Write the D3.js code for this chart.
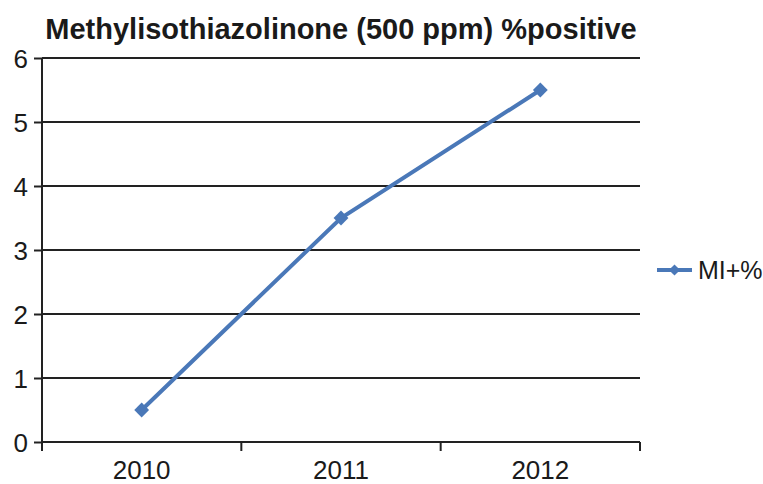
<!DOCTYPE html>
<html>
<head>
<meta charset="utf-8">
<script src="https://cdn.jsdelivr.net/npm/d3@7"></script>
<style>
  body { margin: 0; background: #fff; }
  text { font-family: "Liberation Sans", Arial, sans-serif; fill: #1a1a1a; }
</style>
</head>
<body>
<svg id="chart" width="763" height="484"></svg>
<script>
// chart data
var years = ["2010", "2011", "2012"];
var miPositive = [0.5, 3.5, 5.5];
var yTicks = [0, 1, 2, 3, 4, 5, 6];
var seriesName = "MI+%";
var chartTitle = "Methylisothiazolinone (500 ppm) %positive";

var LINE_COLOR = "#4a78b8";
var svg = d3.select("#chart");

var plotLeft = 42, plotRight = 640, plotTop = 58, plotBottom = 442;

var x = d3.scaleBand().domain(years).range([plotLeft, plotRight]);
var y = d3.scaleLinear().domain([0, 6]).range([plotBottom, plotTop]);

// title
svg.append("text")
  .attr("x", 341).attr("y", 39)
  .attr("text-anchor", "middle")
  .style("font-size", "29px").style("font-weight", "bold")
  .text(chartTitle);

// gridlines
svg.append("g").selectAll("line")
  .data(yTicks.filter(function(d){ return d > 0; }))
  .join("line")
  .attr("x1", plotLeft).attr("x2", plotRight)
  .attr("y1", function(d){ return y(d); }).attr("y2", function(d){ return y(d); })
  .attr("stroke", "#222").attr("stroke-width", 2);

// y axis
var gy = svg.append("g").attr("transform", "translate(" + plotLeft + ",0)")
  .call(d3.axisLeft(y).tickValues(yTicks).tickSize(8).tickPadding(6).tickFormat(d3.format("d")));
gy.select(".domain").attr("stroke", "#222").attr("stroke-width", 2).attr("d", "M0," + plotTop + "V" + plotBottom);
gy.selectAll(".tick line").attr("stroke", "#222").attr("stroke-width", 2);
gy.selectAll(".tick text").style("font-size", "26px").style("font-family", "Liberation Sans, Arial, sans-serif").attr("fill", "#1a1a1a").attr("dy", "0.36em");

// x axis
var gx = svg.append("g").attr("transform", "translate(0," + plotBottom + ")")
  .call(d3.axisBottom(x).tickSize(0).tickPadding(19));
gx.select(".domain").attr("stroke", "#222").attr("stroke-width", 2).attr("d", "M" + plotLeft + ",0H" + plotRight);
gx.selectAll(".tick text").style("font-size", "26px").style("font-family", "Liberation Sans, Arial, sans-serif").attr("fill", "#1a1a1a");

// category boundary ticks
var bounds = years.map(function(d){ return x(d); }).concat([x(years[years.length - 1]) + x.bandwidth()]);
svg.append("g").selectAll("line")
  .data(bounds)
  .join("line")
  .attr("x1", function(d){ return d; }).attr("x2", function(d){ return d; })
  .attr("y1", plotBottom).attr("y2", plotBottom + 9)
  .attr("stroke", "#222").attr("stroke-width", 2);

// series line
var pts = years.map(function(d, i){ return [x(d) + x.bandwidth() / 2, y(miPositive[i])]; });
svg.append("path")
  .datum(pts)
  .attr("d", d3.line())
  .attr("fill", "none")
  .attr("stroke", LINE_COLOR).attr("stroke-width", 4);

var diamond = d3.symbol().type(d3.symbolDiamond2).size(140);
svg.append("g").selectAll("path")
  .data(pts)
  .join("path")
  .attr("transform", function(d){ return "translate(" + d[0] + "," + d[1] + ")"; })
  .attr("d", diamond)
  .attr("fill", LINE_COLOR);

// legend
var gl = svg.append("g").attr("transform", "translate(657,270)");
gl.append("line").attr("x1", 0).attr("x2", 35).attr("y1", 0).attr("y2", 0)
  .attr("stroke", LINE_COLOR).attr("stroke-width", 4);
gl.append("path").attr("transform", "translate(17.5,0)").attr("d", d3.symbol().type(d3.symbolDiamond2).size(80)).attr("fill", LINE_COLOR);
gl.append("text").attr("x", 41).attr("y", 0).attr("dy", "0.36em")
  .style("font-size", "25px").text(seriesName);
</script>
</body>
</html>
